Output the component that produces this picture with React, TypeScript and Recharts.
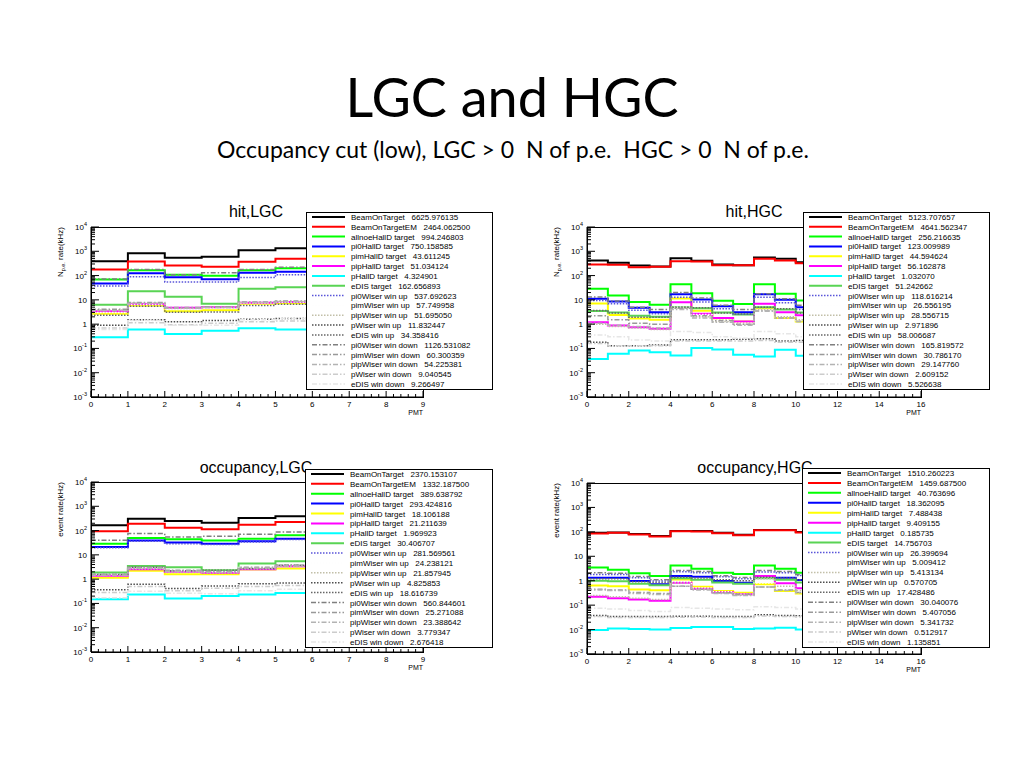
import React from 'react';
import { LineChart, Line, XAxis, YAxis } from 'recharts';

// ---------- series definitions ----------
const SERIES_NAMES = [
  'BeamOnTarget', 'BeamOnTargetEM', 'allnoeHallD target', 'pi0HallD target',
  'pimHallD target', 'pipHallD target', 'pHallD target', 'eDIS target',
  'pi0Wiser win up', 'pimWiser win up', 'pipWiser win up', 'pWiser win up', 'eDIS win up',
  'pi0Wiser win down', 'pimWiser win down', 'pipWiser win down', 'pWiser win down', 'eDIS win down',
];

const SERIES_COLORS = [
  '#000000', '#ff0000', '#00ff00', '#0000ff', '#ffff00', '#ff00ff', '#00ffff', '#59d454',
  '#5954d9', '#fefefe', '#c2bfa8', '#4d4d4d', '#666666',
  '#7f7f7f', '#999999', '#b3b3b3', '#cccccc', '#e6e6e6',
];

const SERIES_DASH = [
  undefined, undefined, undefined, undefined, undefined, undefined, undefined, undefined,
  '1.5 1.5', '1.5 1.5', '1.5 1.5', '1.5 1.5', '1.5 1.5',
  '5 2 1.5 2', '5 2 1.5 2', '5 2 1.5 2', '5 2 1.5 2', '5 2 1.5 2',
];

// ---------- hit, LGC (bins 0..5 visible, PMT 0-9) ----------
const HIT_LGC: number[][] = [
  [393, 838, 539, 592, 1114, 1346],
  [178, 380, 260, 230, 369, 490],
  [69, 167, 107, 98, 167, 202],
  [47, 126, 86, 71, 130, 143],
  [2.7, 5.9, 3.4, 3.7, 6.9, 7.3],
  [3.4, 6.7, 4.7, 5.0, 7.6, 8.1],
  [0.29, 0.6, 0.39, 0.53, 0.68, 0.6],
  [6.3, 22.8, 13.3, 6.9, 28.5, 33.4],
  [37, 89, 55, 55, 83, 107],
  [3.0, 6.5, 4.2, 4.5, 7.5, 8.0],
  [3.8, 7.5, 4.4, 4.8, 7.8, 8.6],
  [0.9, 1.5, 1.25, 1.4, 1.6, 1.7],
  [2.3, 5.5, 3.1, 3.2, 5.9, 6.6],
  [73, 178, 107, 130, 178, 220],
  [4.1, 7.8, 4.9, 5.2, 8.2, 8.9],
  [3.6, 7.0, 4.6, 4.9, 7.7, 8.3],
  [0.7, 1.15, 0.95, 1.1, 1.25, 1.35],
  [0.6, 1.4, 0.9, 0.9, 1.5, 1.7],
];
const HIT_LGC_TOTALS = [
  '6625.976135', '2464.062500', '994.246803', '750.158585', '43.611245', '51.034124',
  '4.324901', '162.656893', '537.692623', '57.749958', '51.695050', '11.832447',
  '34.358416', '1126.531082', '60.300359', '54.225381', '9.040545', '9.266497',
];

// ---------- hit, HGC (bins 0..10 visible, PMT 0-16) ----------
const HIT_HGC: number[][] = [
  [418, 335, 260, 237, 522, 405, 286, 269, 556, 490, 357],
  [286, 277, 222, 229, 393, 380, 269, 269, 490, 418, 325],
  [28.5, 15.1, 8.1, 6.3, 44.4, 18.9, 9.1, 6.7, 44.4, 17.7, 9.4],
  [11.0, 8.6, 4.7, 3.1, 17.2, 10.4, 5.5, 3.1, 17.2, 10.0, 5.0],
  [7.0, 2.4, 1.7, 1.5, 11.5, 3.6, 1.7, 1.3, 4.5, 1.8, 1.3],
  [1.2, 0.88, 0.75, 0.64, 8.0, 2.66, 1.77, 1.29, 6.9, 3.1, 2.3],
  [0.037, 0.06, 0.082, 0.07, 0.051, 0.103, 0.09, 0.055, 0.047, 0.088, 0.05],
  [3.5, 3.0, 2.2, 2.0, 5.0, 4.5, 3.0, 2.5, 5.0, 4.0, 3.0],
  [9.4, 6.9, 3.7, 2.66, 12.9, 8.1, 4.3, 2.6, 12.9, 7.6, 4.0],
  [2.5, 1.6, 1.2, 1.1, 5.0, 2.5, 1.5, 1.1, 4.0, 2.0, 1.4],
  [1.0, 0.8, 0.7, 0.6, 4.5, 2.0, 1.3, 1.0, 4.0, 2.0, 1.5],
  [0.18, 0.13, 0.13, 0.14, 0.23, 0.23, 0.23, 0.24, 0.25, 0.2, 0.21],
  [3.66, 2.9, 1.94, 1.94, 5.0, 4.7, 2.9, 2.6, 5.0, 4.3, 2.9],
  [13, 9, 5, 4, 20, 12, 6, 4, 18, 11, 6],
  [2.2, 1.5, 1.1, 1.0, 4.5, 2.2, 1.4, 1.0, 3.5, 1.8, 1.3],
  [1.1, 0.9, 0.8, 0.7, 4.0, 1.8, 1.2, 0.9, 3.6, 1.8, 1.3],
  [0.16, 0.13, 0.13, 0.13, 0.2, 0.2, 0.2, 0.2, 0.21, 0.18, 0.18],
  [0.36, 0.3, 0.22, 0.2, 0.5, 0.45, 0.3, 0.26, 0.5, 0.4, 0.3],
];
const HIT_HGC_TOTALS = [
  '5123.707657', '4641.562347', '256.216635', '123.009989', '44.594624', '56.162878',
  '1.032070', '51.242662', '118.616214', '26.556195', '28.556715', '2.971896',
  '58.006687', '165.819572', '30.786170', '29.147760', '2.609152', '5.526638',
];

// ---------- occupancy, LGC ----------
const OCC_LGC: number[][] = [
  [164, 309, 248, 212, 329, 385],
  [93, 193, 132, 113, 175, 225],
  [29, 50, 44, 38.6, 46.5, 64],
  [21, 38.6, 32, 29, 36.3, 46.5],
  [1.13, 2.2, 1.6, 1.6, 2.5, 2.74],
  [1.37, 2.57, 2.0, 1.82, 2.57, 3.4],
  [0.15, 0.235, 0.16, 0.2, 0.235, 0.27],
  [1.88, 3.5, 3.1, 2.34, 4.4, 5.5],
  [19.4, 36, 29, 26.5, 34, 42.5],
  [1.5, 2.9, 2.2, 2.0, 3.0, 3.6],
  [1.4, 2.6, 1.9, 1.8, 2.6, 3.3],
  [0.365, 0.62, 0.41, 0.52, 0.64, 0.7],
  [1.55, 3.1, 2.2, 2.34, 2.74, 3.75],
  [40, 75, 55, 58, 70, 88],
  [1.6, 3.1, 2.3, 2.1, 3.1, 3.8],
  [1.45, 2.8, 2.1, 1.9, 2.9, 3.5],
  [0.28, 0.5, 0.33, 0.42, 0.5, 0.55],
  [0.17, 0.32, 0.26, 0.25, 0.33, 0.38],
];
const OCC_LGC_TOTALS = [
  '2370.153107', '1332.187500', '389.638792', '293.424816', '18.106188', '21.211639',
  '1.969923', '30.406707', '281.569561', '24.238121', '21.857945', '4.825853',
  '18.616739', '560.844601', '25.271088', '23.388642', '3.779347', '2.676418',
];

// ---------- occupancy, HGC ----------
const OCC_HGC: number[][] = [
  [92, 95, 81, 67, 108, 108, 92, 76, 119, 119, 98],
  [86, 91, 78, 65, 105, 104, 88, 73, 115, 115, 94],
  [3.5, 2.8, 2.0, 1.55, 4.2, 3.1, 2.1, 1.87, 4.2, 3.1, 2.1],
  [1.33, 1.33, 0.97, 0.71, 1.55, 1.46, 0.97, 0.83, 1.55, 1.33, 1.06],
  [0.64, 0.6, 0.44, 0.41, 1.13, 0.57, 0.38, 0.32, 0.71, 0.38, 0.3],
  [0.22, 0.19, 0.17, 0.15, 0.83, 0.47, 0.34, 0.28, 1.55, 0.78, 0.49],
  [0.0095, 0.011, 0.0105, 0.01, 0.0115, 0.0126, 0.0126, 0.0105, 0.011, 0.012, 0.01],
  [1.0, 0.95, 0.75, 0.65, 1.25, 1.1, 0.85, 0.75, 1.25, 1.1, 0.85],
  [1.8, 1.8, 1.33, 0.97, 2.33, 2.1, 1.46, 1.2, 2.26, 2.1, 1.65],
  [0.45, 0.4, 0.3, 0.28, 0.9, 0.5, 0.35, 0.28, 0.8, 0.45, 0.33],
  [0.25, 0.22, 0.19, 0.17, 0.8, 0.45, 0.32, 0.26, 1.2, 0.6, 0.4],
  [0.038, 0.034, 0.034, 0.034, 0.035, 0.035, 0.034, 0.034, 0.04, 0.038, 0.037],
  [1.2, 1.2, 0.9, 0.85, 1.4, 1.3, 1.1, 1.0, 1.4, 1.3, 1.1],
  [2.1, 2.0, 1.5, 1.1, 2.6, 2.4, 1.6, 1.35, 2.6, 2.4, 1.8],
  [0.45, 0.42, 0.33, 0.3, 0.6, 0.45, 0.32, 0.28, 0.55, 0.42, 0.33],
  [0.42, 0.4, 0.3, 0.27, 0.6, 0.42, 0.3, 0.25, 0.55, 0.4, 0.32],
  [0.034, 0.031, 0.031, 0.031, 0.032, 0.033, 0.031, 0.031, 0.036, 0.034, 0.033],
  [0.075, 0.07, 0.06, 0.055, 0.08, 0.075, 0.07, 0.065, 0.085, 0.08, 0.07],
];
const OCC_HGC_TOTALS = [
  '1510.260223', '1459.687500', '40.763696', '18.362095', '7.488438', '9.409155',
  '0.185735', '14.756703', '26.399694', '5.009412', '5.413134', '0.570705',
  '17.428486', '30.040076', '5.407056', '5.341732', '0.512917', '1.135851',
];

// ---------- axis ticks ----------
const Y_TICKS: number[] = [];
for (let e = -3; e <= 4; e++) {
  Y_TICKS.push(Math.pow(10, e));
  if (e < 4) for (let k = 2; k <= 9; k++) Y_TICKS.push(k * Math.pow(10, e));
}
const LGC_X_TICKS: number[] = Array.from({ length: 46 }, (_, i) => Math.round(i * 2) / 10);
const HGC_X_TICKS: number[] = Array.from({ length: 41 }, (_, i) => Math.round(i * 4) / 10);

// ---------- layout ----------
const FONT = '"Liberation Sans", Arial, Helvetica, sans-serif';
const TITLE_FONT = 'Lato, "Open Sans", sans-serif';

type PanelCfg = {
  title: string; yTitle: 'npe' | 'event';
  plotX: number; plotY: number; plotW: number; plotH: number;
  xMax: number; xTicks: number[]; xMajor: number;
  titleX: number; titleY: number;
  legX: number; legY: number; legW: number; legH: number;
  values: number[][]; totals: string[];
};

const PANELS: PanelCfg[] = [
  { title: 'hit,LGC', yTitle: 'npe', plotX: 91, plotY: 227, plotW: 332, plotH: 170, xMax: 9, xTicks: LGC_X_TICKS, xMajor: 1,
    titleX: 256, titleY: 217, legX: 306, legY: 212, legW: 186, legH: 177, values: HIT_LGC, totals: HIT_LGC_TOTALS },
  { title: 'hit,HGC', yTitle: 'npe', plotX: 587, plotY: 227, plotW: 334, plotH: 170, xMax: 16, xTicks: HGC_X_TICKS, xMajor: 2,
    titleX: 754, titleY: 217, legX: 803, legY: 212, legW: 186, legH: 177, values: HIT_HGC, totals: HIT_HGC_TOTALS },
  { title: 'occupancy,LGC', yTitle: 'event', plotX: 91, plotY: 482, plotW: 332, plotH: 170, xMax: 9, xTicks: LGC_X_TICKS, xMajor: 1,
    titleX: 256, titleY: 473, legX: 305, legY: 469, legW: 187, legH: 178, values: OCC_LGC, totals: OCC_LGC_TOTALS },
  { title: 'occupancy,HGC', yTitle: 'event', plotX: 587, plotY: 483, plotW: 334, plotH: 171, xMax: 16, xTicks: HGC_X_TICKS, xMajor: 2,
    titleX: 755, titleY: 473, legX: 802, legY: 468, legW: 187, legH: 179, values: OCC_HGC, totals: OCC_HGC_TOTALS },
];

function buildRows(values: number[][]) {
  const n = values[0].length;
  const rows: Record<string, number>[] = [];
  for (let b = 0; b <= n; b++) {
    const row: Record<string, number> = { x: b };
    values.forEach((arr, i) => { row['s' + i] = arr[Math.min(b, n - 1)]; });
    rows.push(row);
  }
  return rows;
}

function YTick(props: any) {
  const { x, y, payload } = props;
  const v = payload.value as number;
  const lg = Math.log10(v);
  const e = Math.round(lg);
  const major = Math.abs(lg - e) < 1e-6;
  return (
    <g>
      <line x1={x} y1={y} x2={x + (major ? 8 : 4)} y2={y} stroke="#000" strokeWidth={1} />
      {major && (
        <text x={x - 4} y={y + 3} textAnchor="end" fontSize={8} fontFamily={FONT} fill="#000">
          {e === 0 ? '1' : e === 1 ? '10' : (
            <>
              <tspan>10</tspan>
              <tspan dy={-4} fontSize={5.5}>{String(e)}</tspan>
            </>
          )}
        </text>
      )}
    </g>
  );
}

function XTick(props: any) {
  const { x, y, payload, majorStep } = props;
  const v = payload.value as number;
  const q = v / majorStep;
  const major = Math.abs(q - Math.round(q)) < 1e-6;
  return (
    <g>
      <line x1={x} y1={y} x2={x} y2={y - (major ? 6 : 3)} stroke="#000" strokeWidth={1} />
      {major && (
        <text x={x} y={y + 10} textAnchor="middle" fontSize={8} fontFamily={FONT} fill="#000">
          {String(Math.round(v))}
        </text>
      )}
    </g>
  );
}

function PanelChart({ cfg }: { cfg: PanelCfg }) {
  const rows = buildRows(cfg.values);
  return (
    <div style={{ position: 'absolute', left: cfg.plotX - 50, top: cfg.plotY - 10 }}>
      <LineChart width={cfg.plotW + 60} height={cfg.plotH + 30} data={rows}
        margin={{ top: 10, right: 10, bottom: 0, left: 0 }}>
        <XAxis dataKey="x" type="number" domain={[0, cfg.xMax]} ticks={cfg.xTicks} interval={0}
          allowDataOverflow height={20} tickSize={0} tickMargin={0} tickLine={false} stroke="#000"
          tick={(p: any) => <XTick {...p} majorStep={cfg.xMajor} />} />
        <YAxis type="number" scale="log" domain={[0.001, 10000]} ticks={Y_TICKS} interval={0}
          allowDataOverflow width={50} tickSize={0} tickMargin={0} tickLine={false} stroke="#000"
          tick={(p: any) => <YTick {...p} />} />
        {cfg.values.map((_, i) => (
          <Line key={i} type="stepAfter" dataKey={'s' + i} stroke={SERIES_COLORS[i]}
            strokeWidth={SERIES_DASH[i] ? 1.5 : 2}
            strokeDasharray={SERIES_DASH[i]} dot={false} activeDot={false} isAnimationActive={false} />
        ))}
      </LineChart>
    </div>
  );
}

function PanelOverlay({ cfg }: { cfg: PanelCfg }) {
  const rowH = cfg.legH / 18;
  return (
    <g>
      <rect x={cfg.plotX + 0.5} y={cfg.plotY + 0.5} width={cfg.plotW} height={cfg.plotH} fill="none" stroke="#000" strokeWidth={1} />
      <text x={cfg.titleX} y={cfg.titleY} textAnchor="middle" fontSize={16} fontFamily={FONT} fill="#000">{cfg.title}</text>
      <text transform={`translate(${cfg.plotX - 28}, ${cfg.plotY}) rotate(-90)`} textAnchor="end" fontSize={8} fontFamily={FONT} fill="#000">
        {cfg.yTitle === 'npe' ? (
          <>
            <tspan>N</tspan>
            <tspan dy={2} fontSize={5.5}>p.e.</tspan>
            <tspan dy={-2}> rate(kHz)</tspan>
          </>
        ) : 'event rate(kHz)'}
      </text>
      <text x={cfg.plotX + cfg.plotW} y={cfg.plotY + cfg.plotH + 18} textAnchor="end" fontSize={7} fontFamily={FONT} fill="#000">PMT</text>
      <rect x={cfg.legX + 0.5} y={cfg.legY + 0.5} width={cfg.legW} height={cfg.legH} fill="#fff" stroke="#000" strokeWidth={1} />
      {SERIES_NAMES.map((name, i) => {
        const cy = cfg.legY + rowH * (i + 0.5);
        return (
          <g key={i}>
            <line x1={cfg.legX + 6} x2={cfg.legX + 39} y1={cy} y2={cy} stroke={SERIES_COLORS[i]}
              strokeWidth={SERIES_DASH[i] ? 1.5 : 2} strokeDasharray={SERIES_DASH[i]} />
            <text x={cfg.legX + 45} y={cy + 3} fontSize={8} fontFamily={FONT} fill="#000" style={{ whiteSpace: 'pre' }}>
              {name + '   ' + cfg.totals[i]}
            </text>
          </g>
        );
      })}
    </g>
  );
}

export default function App() {
  return (
    <div style={{ position: 'absolute', left: 0, top: 0, width: 1024, height: 768, background: '#fff', overflow: 'hidden' }}>
      {PANELS.map((cfg, i) => <PanelChart key={i} cfg={cfg} />)}
      <svg width={1024} height={768} style={{ position: 'absolute', left: 0, top: 0, pointerEvents: 'none' }}>
        <text x={512} y={117} textAnchor="middle" fontSize={54} fontFamily={TITLE_FONT} fill="#000">LGC and HGC</text>
        <text x={513} y={158} textAnchor="middle" fontSize={23} fontFamily={TITLE_FONT} fill="#000" style={{ whiteSpace: 'pre' }}>
          {'Occupancy cut (low), LGC > 0  N of p.e.  HGC > 0  N of p.e.'}
        </text>
        {PANELS.map((cfg, i) => <PanelOverlay key={i} cfg={cfg} />)}
      </svg>
    </div>
  );
}
